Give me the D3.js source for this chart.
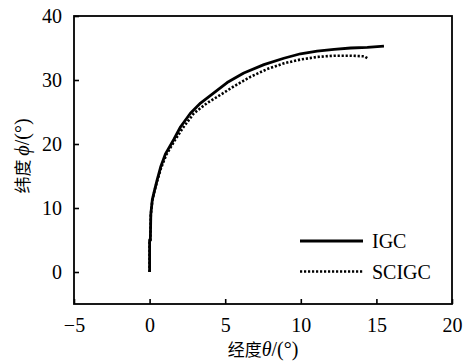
<!DOCTYPE html>
<html>
<head>
<meta charset="utf-8">
<script src="https://cdn.jsdelivr.net/npm/d3@7"></script>
<style>
  html, body { margin: 0; padding: 0; background: #fff; }
  svg { display: block; }
  .tick text, .serif { font-family: "Liberation Serif", "Times New Roman", serif; }
</style>
</head>
<body>
<svg id="chart" width="469" height="361"></svg>
<script>
// Longitude / latitude track of the two guidance schemes
const igcLon   = [0, 0, 0.05, 0.08, 0.18, 0.33, 0.5, 0.73, 1.06, 1.6, 2.05, 2.7, 3.37, 4.25, 5.13, 6.23, 7.56, 8.88, 9.98, 11.08, 12.2, 13.3, 14.4, 15.5];
const igcLat   = [0, 5, 5, 9, 11.3, 12.8, 14.4, 16.4, 18.5, 20.7, 22.7, 24.8, 26.4, 28.0, 29.6, 31.1, 32.4, 33.4, 34.1, 34.5, 34.8, 35.0, 35.1, 35.3];
const scigcLon = [0, 0, 0.05, 0.08, 0.18, 0.33, 0.5, 0.75, 1.1, 1.65, 2.2, 2.93, 3.8, 4.7, 5.57, 6.67, 7.77, 8.88, 9.98, 11.08, 12.2, 13.3, 14.2, 14.4];
const scigcLat = [0, 5, 5, 9, 11.2, 12.7, 14.2, 16.2, 18.3, 20.5, 22.5, 24.8, 26.4, 27.7, 29.0, 30.5, 31.7, 32.6, 33.2, 33.6, 33.8, 33.8, 33.7, 33.4];

const seriesNames = ["IGC", "SCIGC"];
const xTicks = [-5, 0, 5, 10, 15, 20];
const yTicks = [0, 10, 20, 30, 40];

const svg = d3.select("#chart");
const m = { left: 74, right: 452, top: 16, bottom: 304 };

const x = d3.scaleLinear().domain([-5, 20]).range([m.left, m.right]);
const y = d3.scaleLinear().domain([-5, 40]).range([m.bottom, m.top]);

const serif = '"Liberation Serif", "Times New Roman", serif';
const cjk = '"Noto Sans CJK SC", sans-serif';

// Axes with inward ticks
const xAxis = d3.axisBottom(x).tickValues(xTicks).tickSizeInner(-5).tickSizeOuter(0)
  .tickPadding(14).tickFormat(d => d < 0 ? "\u2212" + Math.abs(d) : d);
const yAxis = d3.axisLeft(y).tickValues(yTicks).tickSizeInner(-5).tickSizeOuter(0)
  .tickPadding(12);

const gx = svg.append("g").attr("transform", `translate(0,${m.bottom})`).call(xAxis);
const gy = svg.append("g").attr("transform", `translate(${m.left},0)`).call(yAxis);
[gx, gy].forEach(g => {
  g.attr("font-family", serif).attr("font-size", 20);
  g.select(".domain").remove();
  g.selectAll(".tick line").attr("stroke", "#000").attr("stroke-width", 1.6);
  g.selectAll(".tick text").attr("fill", "#000").style("font-family", serif).style("font-size", "20px");
});

// Frame
svg.append("rect")
  .attr("x", m.left).attr("y", m.top)
  .attr("width", m.right - m.left).attr("height", m.bottom - m.top)
  .attr("fill", "none").attr("stroke", "#000").attr("stroke-width", 1.8);

// Curves
const line = d3.line().x(d => x(d[0])).y(d => y(d[1]));
const igc = igcLon.map((v, i) => [v, igcLat[i]]);
const scigc = scigcLon.map((v, i) => [v, scigcLat[i]]);

svg.append("path").datum(scigc).attr("d", line)
  .attr("fill", "none").attr("stroke", "#000").attr("stroke-width", 2.6)
  .attr("stroke-dasharray", "2.2,1.8");
svg.append("path").datum(igc).attr("d", line)
  .attr("fill", "none").attr("stroke", "#000").attr("stroke-width", 2.8)
  .attr("stroke-linejoin", "round");

// Legend
const legend = svg.append("g");
const legY = [241, 271.5];
seriesNames.forEach((name, i) => {
  legend.append("line")
    .attr("x1", 300).attr("x2", 363).attr("y1", legY[i]).attr("y2", legY[i])
    .attr("stroke", "#000").attr("stroke-width", i === 0 ? 2.8 : 2.6)
    .attr("stroke-dasharray", i === 0 ? null : "2.2,1.8");
  legend.append("text")
    .attr("class", "serif")
    .attr("x", 372).attr("y", legY[i] + 7)
    .attr("font-size", 20).attr("fill", "#000")
    .text(name);
});

// Axis titles
const xt = svg.append("text")
  .attr("x", (m.left + m.right) / 2).attr("y", 356)
  .attr("text-anchor", "middle").attr("fill", "#000");
xt.append("tspan").style("font-family", cjk).attr("font-size", 17).text("经度");
xt.append("tspan").style("font-family", serif).attr("font-style", "italic").attr("font-size", 20).text("θ");
xt.append("tspan").style("font-family", serif).attr("font-size", 20).text("/(°)");

const yt = svg.append("text")
  .attr("transform", `translate(29,${(m.top + m.bottom) / 2 - 4}) rotate(-90)`)
  .attr("text-anchor", "middle").attr("fill", "#000");
yt.append("tspan").style("font-family", cjk).attr("font-size", 17).text("纬度");
yt.append("tspan").style("font-family", serif).attr("font-style", "italic").attr("font-size", 20).attr("dx", 4).text("ϕ");
yt.append("tspan").style("font-family", serif).attr("font-size", 20).text("/(°)");
</script>
</body>
</html>
